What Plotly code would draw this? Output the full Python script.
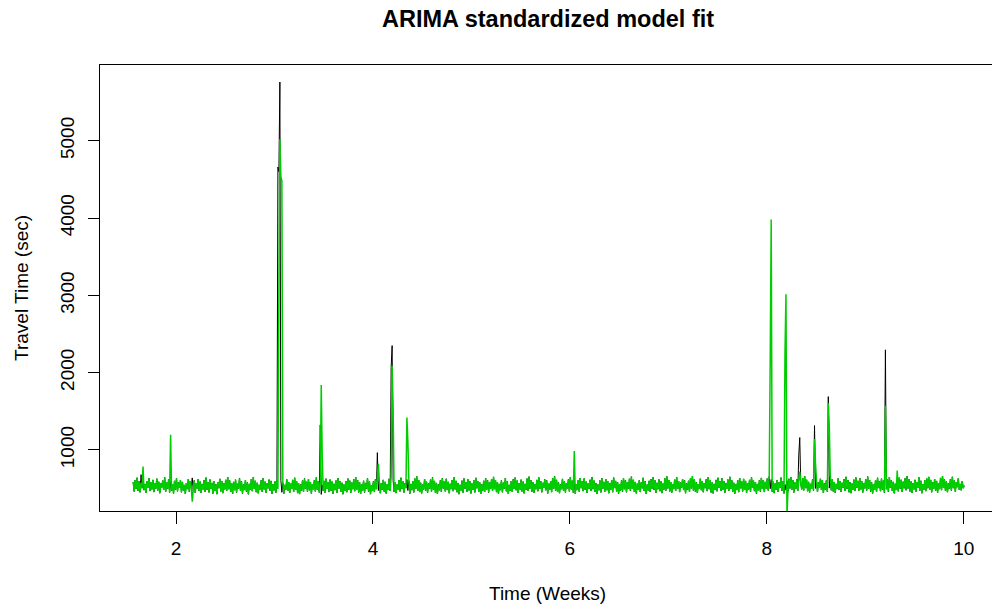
import numpy as np
import plotly.graph_objects as go

# Sampling grid of the series (weeks)
week_start = 1.565
week_end = 10.005

# Travel time level (sec) common to observed and fitted series between incidents
baseline = [
    585, 462, 610, 495, 640, 470, 598, 452, 575, 505, 620, 480, 560, 445, 592, 510, 635, 468, 580, 490,
    612, 455, 570, 500, 628, 476, 588, 440, 566, 515, 603, 482, 645, 460, 577, 498, 619, 450, 590, 472,
    558, 438, 600, 487, 632, 465, 579, 508, 611, 452, 586, 476, 547, 430, 572, 493, 624, 460, 596, 515,
    638, 478, 605, 447, 569, 502, 621, 468, 591, 443, 560, 489, 608, 458, 642, 485, 583, 451, 617, 497,
    574, 436, 593, 471, 556, 428, 581, 505, 626, 463, 598, 441, 566, 490, 613, 474, 650, 492, 604, 456,
    571, 433, 587, 479, 615, 449, 562, 500, 634, 470, 595, 437, 553, 481, 609, 462, 578, 426, 561, 488,
    622, 467, 646, 496, 601, 454, 575, 439, 549, 484, 606, 459, 637, 490, 589, 446, 568, 503, 615, 472,
    599, 431, 557, 476, 592, 448, 627, 494, 654, 466, 607, 452, 573, 435, 548, 486, 619, 470, 585, 444,
    563, 497, 612, 458, 640, 483, 596, 441, 570, 429, 552, 475, 603, 456, 631, 499, 588, 461, 624, 478,
    584, 437, 559, 491, 608, 464, 643, 487, 597, 450, 566, 425, 546, 472, 599, 445, 628, 495, 581, 455,
    616, 473, 590, 434, 562, 480, 604, 447, 636, 501, 593, 458, 575, 427, 551, 469, 598, 453, 629, 486,
    602, 446, 577, 492, 621, 466, 648, 489, 608, 451, 580, 432, 557, 477, 601, 449, 573, 498, 633, 462,
    589, 428, 545, 470, 594, 455, 618, 493, 639, 475, 600, 440, 569, 485, 612, 460, 587, 436, 558, 481,
    626, 468, 651, 497, 605, 457, 578, 442, 553, 488, 609, 463, 640, 494, 592, 449, 571, 506, 618, 475,
    602, 434, 560, 479, 595, 451, 630, 497, 657, 469, 610, 455, 576, 438, 551, 489, 622, 473, 588, 447,
    566, 500, 615, 461, 643, 486, 599, 444, 573, 432, 555, 478, 606, 459, 634, 502, 591, 464, 627, 481,
    587, 440, 562, 494, 611, 467, 646, 490, 600, 453, 569, 428, 549, 475, 602, 448, 631, 498, 584, 458,
    619, 476, 593, 437, 565, 483, 607, 450, 639, 504, 596, 461, 578, 430, 554, 472, 601, 456, 632, 489,
    605, 449, 580, 495, 624, 469, 651, 492, 611, 454, 583, 435, 560, 480, 604, 452, 576, 501, 636, 465,
    592, 431, 548, 473, 597, 458, 621, 496, 642, 478, 603, 443, 572, 488, 615, 463, 590, 439, 561, 484,
    629, 471, 654, 500, 608, 460, 581, 445, 556, 491, 612, 466, 643, 497, 595, 452, 574, 509, 621, 478,
    605, 437, 563, 482, 598, 454, 633, 500, 660, 472, 613, 458, 579, 441, 554, 492, 625, 476, 591, 450,
    569, 503, 618, 464, 646, 489, 602, 447, 576, 435, 558, 481, 609, 462, 637, 505, 594, 467, 630, 484,
    590, 443, 565, 497, 614, 470, 649, 493, 603, 456, 572, 431, 552, 478, 605, 451, 634, 501, 587, 461,
    622, 479, 596, 440, 568, 486, 610, 453, 642, 507, 599, 464, 581, 433, 557, 475, 604, 459, 635, 492,
    608, 452, 583, 498, 627, 472, 654, 495, 614, 457, 586, 438, 563, 483, 607, 455, 579, 504, 639, 468,
    595, 434, 551, 476, 600, 461, 624, 499, 645, 481, 606, 446, 575, 491, 618, 466, 593, 442, 564, 487,
    632, 474, 657, 503, 611, 463, 584, 448, 559, 494, 615, 469, 646, 500, 598, 455, 577, 512, 624, 481,
    608, 440, 566, 485, 601, 457, 636, 503, 663, 475, 616, 461, 582, 444, 557, 495, 628, 479, 594, 453,
    572, 506, 621, 467, 649, 492, 605, 450, 579, 438, 561, 484, 612, 465, 640, 508, 597, 470, 633, 487,
    593, 446, 568, 500, 617, 473, 652, 496, 606, 459, 575, 434, 555, 481, 608, 454, 637, 504, 590, 464,
    625, 482, 599, 443, 571, 489, 613, 456, 645, 510, 602, 467, 584, 436, 560, 478, 607, 462, 638, 495,
    611, 455, 586, 501, 630, 475, 657, 498, 617, 460, 589, 441, 566, 486, 610, 458, 582, 507, 642, 471,
    598, 437, 554, 479, 603, 464, 627, 502, 648, 484, 609, 449, 578, 494, 621, 469, 596, 445, 567, 490,
    635, 477, 660, 506, 614, 466, 587, 451, 562, 497, 618, 472, 649, 503, 601, 458, 580, 515, 627, 484,
    611, 443, 569, 488, 604, 460, 639, 506, 666, 478, 619, 464, 585, 447, 560, 498, 631, 482, 597, 456,
    575, 509, 624, 470, 652, 495, 608, 453, 582, 441, 564, 487, 615, 468, 643, 511, 600, 473, 636, 490,
    596, 449, 571, 503, 620, 476, 655, 499, 609, 462, 578, 437, 558, 484, 611, 457, 640, 507, 593, 467,
    628, 485, 602, 446, 574, 492, 616, 459, 648, 513, 605, 470, 587, 439, 563, 481, 610, 465, 641, 498,
    614, 458, 589, 504, 633, 478, 660, 501, 620, 463, 592, 444, 569, 489, 613, 461, 585, 510, 645, 474,
    601, 440, 557, 482, 606, 467, 630, 505, 651, 487, 612, 452, 581, 497, 624, 472, 599, 448, 570, 493,
    638, 480, 663, 509, 617, 469, 590, 454, 565, 500, 621, 475, 652, 506, 604, 461, 583, 518, 630, 487,
    560, 478, 598, 505, 541,
]

# Incident peaks in the observed series (week, sec)
observed_peak_weeks = [1.645, 3.035, 3.045, 3.055, 3.465, 4.045, 4.185, 4.195,
                       8.325, 8.335, 8.485, 8.625, 9.205]
observed_peak_values = [680, 4660, 4600, 5760, 1325, 965, 2070, 2350,
                        935, 1160, 1315, 1690, 2295]

# Peaks and dips in the fitted series (week, sec)
fitted_peak_weeks = [1.665, 1.945, 2.165, 3.045, 3.055, 3.065, 3.075, 3.475, 3.485,
                     4.055, 4.195, 4.205, 4.345, 4.355, 6.045, 8.035, 8.045,
                     8.185, 8.195, 8.205, 8.335, 8.485, 8.495, 8.625, 8.635,
                     9.205, 9.325]
fitted_peak_values = [785, 1195, 330, 3050, 5020, 4540, 4480, 1840, 920,
                      820, 2090, 1550, 1420, 1110, 985, 2180, 3980,
                      2250, 3015, 150, 720, 1140, 830, 1605, 1300,
                      1570, 732]

weeks = np.linspace(week_start, week_end, len(baseline))


def with_peaks(level, peak_weeks, peak_values):
    series = np.array(level, dtype=float)
    for w, v in zip(peak_weeks, peak_values):
        series[int(np.argmin(np.abs(weeks - w)))] = v
    return series


observed = with_peaks(baseline, observed_peak_weeks, observed_peak_values)
fitted = with_peaks(baseline, fitted_peak_weeks, fitted_peak_values)

FONT = "Liberation Sans, Arial, sans-serif"

fig = go.Figure()
fig.add_trace(go.Scatter(x=weeks, y=observed, mode="lines",
                         line=dict(color="black", width=1.0, simplify=False),
                         showlegend=False, hoverinfo="skip"))
fig.add_trace(go.Scatter(x=weeks, y=fitted, mode="lines",
                         line=dict(color="rgb(0,205,0)", width=1.5, simplify=False),
                         showlegend=False, hoverinfo="skip"))

fig.update_layout(
    width=992, height=609,
    margin=dict(l=100, r=0, t=65, b=98),
    paper_bgcolor="white", plot_bgcolor="white",
    font=dict(family=FONT, size=19, color="black"),
    xaxis=dict(range=[1.228, 10.2875], tickvals=[2, 4, 6, 8, 10],
               ticks="outside", ticklen=12, tickwidth=1, tickcolor="black",
               showline=True, linecolor="black", linewidth=1, mirror=True,
               showgrid=False, zeroline=False, ticklabelstandoff=8,
               tickfont=dict(size=19)),
    yaxis=dict(range=[210, 5980], tickvals=[1000, 2000, 3000, 4000, 5000],
               ticks="outside", ticklen=11, tickwidth=1, tickcolor="black",
               showline=True, linecolor="black", linewidth=1, mirror=False,
               showgrid=False, zeroline=False, tickangle=-90,
               ticklabelstandoff=6, tickfont=dict(size=19)),
    annotations=[
        dict(text="<b>ARIMA standardized model fit</b>", xref="paper", yref="paper",
             x=0.5022, y=1.1031, xanchor="center", yanchor="middle",
             showarrow=False, font=dict(size=23.5, family=FONT, color="black")),
        dict(text="Time (Weeks)", xref="paper", yref="paper",
             x=0.5022, y=-0.1839, xanchor="center", yanchor="middle",
             showarrow=False, font=dict(size=19, family=FONT, color="black")),
        dict(text="Travel Time (sec)", xref="paper", yref="paper",
             x=-0.0886, y=0.5, xanchor="center", yanchor="middle", textangle=-90,
             showarrow=False, font=dict(size=19, family=FONT, color="black")),
    ],
)

fig.write_html("out.html")
